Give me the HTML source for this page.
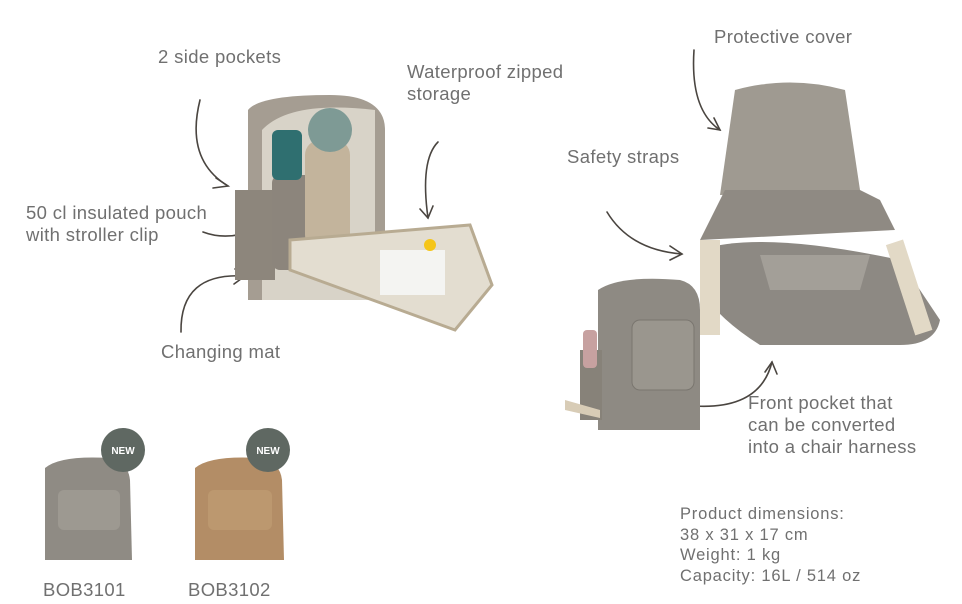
<!DOCTYPE html>
<html><head><meta charset="utf-8"><style>
body{margin:0;width:962px;height:604px;background:#fff;position:relative;overflow:hidden;font-family:"Liberation Sans",sans-serif;color:#707070}
.t{position:absolute;font-size:18.5px;line-height:22px;letter-spacing:0.35px;white-space:nowrap}
.s{font-size:16.5px;line-height:20.5px;letter-spacing:0.8px}
</style></head><body>
<svg width="962" height="604" style="position:absolute;left:0;top:0">
<g fill="none" stroke="#4a4540" stroke-width="1.6" stroke-linecap="round">
<path d="M200 100 Q185 160 228 186"/><path d="M216 178 L228 186 L213 188"/>
<path d="M438 142 Q420 160 428 218"/><path d="M420 209 L428 218 L433 206"/>
<path d="M203 232 Q240 246 285 212"/>
<path d="M181 332 Q180 272 245 276"/><path d="M235 269 L245 276 L234 284"/>
<path d="M694 50 Q690 110 720 130"/><path d="M708 128 L720 130 L714 118"/>
<path d="M607 212 Q630 250 682 254"/><path d="M670 246 L682 254 L670 260"/>
<path d="M694 406 Q760 410 772 362"/><path d="M765 372 L772 362 L777 374"/>
</g>
<path d="M248 110 Q260 95 330 95 Q385 95 385 130 L385 300 L248 300 Z" fill="#a59d92"/>
<path d="M262 130 Q290 100 375 110 L375 300 L262 300 Z" fill="#d8d3c8"/>
<rect x="235" y="190" width="40" height="90" fill="#8d867c"/>
<rect x="272" y="175" width="45" height="95" rx="8" fill="#8c857c"/>
<rect x="305" y="140" width="45" height="110" rx="15" fill="#c3b49c"/>
<ellipse cx="330" cy="130" rx="22" ry="22" fill="#7e9a95"/>
<rect x="272" y="130" width="30" height="50" rx="6" fill="#2f6f70"/>
<path d="M290 240 L470 225 L492 285 L455 330 L290 270 Z" fill="#e3ddd0" stroke="#b8ab92" stroke-width="3"/>
<rect x="380" y="250" width="65" height="45" fill="#f4f4f2"/>
<circle cx="430" cy="245" r="6" fill="#f5c518"/>
<path d="M735 90 Q790 75 845 90 L860 190 L720 195 Z" fill="#9f9a91"/>
<path d="M725 190 L860 190 L880 200 L895 230 L700 240 Z" fill="#8f8a83"/>
<path d="M700 250 Q760 230 900 260 L940 320 Q935 345 900 345 L760 345 Q720 320 700 290 Z" fill="#8d8983"/>
<path d="M760 255 L870 255 L860 290 L770 290 Z" fill="#a39f98"/>
<rect x="700" y="240" width="20" height="95" fill="#e2d9c6"/>
<rect x="900" y="240" width="18" height="95" fill="#e2d9c6" transform="rotate(-18 909 287)"/>
<path d="M598 290 Q620 275 680 280 Q700 285 700 310 L700 430 L598 430 Z" fill="#8e8a83"/>
<rect x="632" y="320" width="62" height="70" rx="8" fill="#9a968e" stroke="#7a766f"/>
<rect x="580" y="350" width="22" height="70" fill="#878279"/>
<rect x="583" y="330" width="14" height="38" rx="4" fill="#c7a1a0"/>
<path d="M565 400 L600 410 L600 418 L565 410 Z" fill="#d8ccb6"/>
<path d="M45 468 Q60 455 110 458 Q128 462 130 480 L132 560 L45 560 Z" fill="#8f8b84"/>
<rect x="58" y="490" width="62" height="40" rx="6" fill="#9d9991"/>
<path d="M195 468 Q210 455 260 458 Q280 462 282 480 L284 560 L195 560 Z" fill="#b38d66"/>
<rect x="208" y="490" width="64" height="40" rx="6" fill="#bc986f"/>
<circle cx="123" cy="450" r="22" fill="#5f6862"/>
<circle cx="268" cy="450" r="22" fill="#5f6862"/>
<text x="123" y="454" fill="#fff" font-size="10" font-weight="bold" text-anchor="middle" font-family="Liberation Sans">NEW</text>
<text x="268" y="454" fill="#fff" font-size="10" font-weight="bold" text-anchor="middle" font-family="Liberation Sans">NEW</text>
</svg>
<div class="t" style="left:158px;top:46px">2 side pockets</div>
<div class="t" style="left:407px;top:61px">Waterproof zipped<br>storage</div>
<div class="t" style="left:26px;top:202px">50 cl insulated pouch<br>with stroller clip</div>
<div class="t" style="left:161px;top:341px">Changing mat</div>
<div class="t" style="left:714px;top:26px">Protective cover</div>
<div class="t" style="left:567px;top:146px">Safety straps</div>
<div class="t" style="left:748px;top:392px">Front pocket that<br>can be converted<br>into a chair harness</div>
<div class="t s" style="left:680px;top:504px">Product dimensions:<br>38 x 31 x 17 cm<br>Weight: 1 kg<br>Capacity: 16L / 514 oz</div>
<div class="t" style="left:43px;top:579px">BOB3101</div>
<div class="t" style="left:188px;top:579px">BOB3102</div>
</body></html>
